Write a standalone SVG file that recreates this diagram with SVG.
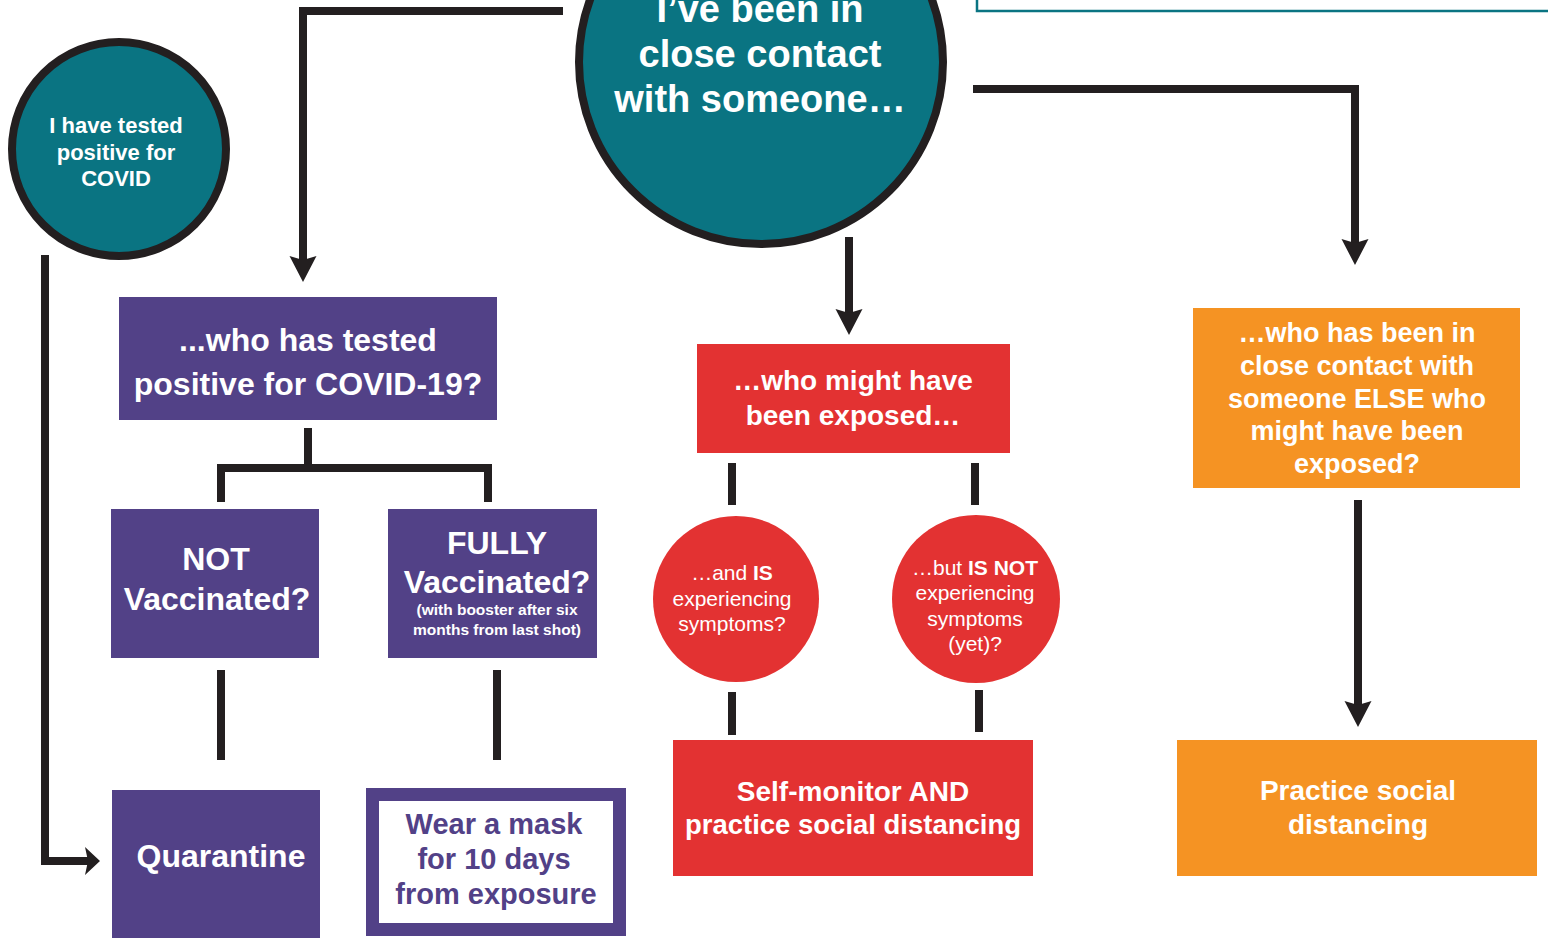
<svg xmlns="http://www.w3.org/2000/svg" width="1548" height="941" viewBox="0 0 1548 941">
<style>
text{font-family:"Liberation Sans",Arial,sans-serif;font-weight:bold;text-anchor:middle;fill:#fff}
.conn{fill:none;stroke:#231f20;stroke-width:8;stroke-linejoin:miter}
.teal{fill:#0a7482;stroke:#231f20;stroke-width:8}
.purple{fill:#524187}
.red{fill:#e33232}
.orange{fill:#f59323}
.reg{font-weight:normal}
.ptext{fill:#524187}
</style>
<defs>
<marker id="arr" viewBox="0 -14 27 28" markerWidth="27" markerHeight="28" refX="4" refY="0" orient="auto" markerUnits="userSpaceOnUse">
<path d="M0,-13.5 L26,0 L0,13.5 L4,0 Z" fill="#231f20"/>
</marker>
<marker id="arrs" viewBox="0 -15 16 30" markerWidth="16" markerHeight="30" refX="3" refY="0" orient="auto" markerUnits="userSpaceOnUse">
<path d="M0,-14 L15,0 L0,14 L3,0 Z" fill="#231f20"/>
</marker>
</defs>
<rect x="977" y="-20" width="600" height="31" fill="none" stroke="#0a7482" stroke-width="2.5"/>
<g id="connectors">
<path class="conn" d="M563,11 H303 V260" marker-end="url(#arr)"/>
<path class="conn" d="M973,89 H1355 V243" marker-end="url(#arr)"/>
<path class="conn" d="M849,237 V313" marker-end="url(#arr)"/>
<path class="conn" d="M1358,500 V705" marker-end="url(#arr)"/>
<path class="conn" d="M45,255 V861 H88" marker-end="url(#arrs)"/>
<path class="conn" d="M308,428 V468"/>
<path class="conn" d="M221,502 V468 H488 V502"/>
<path class="conn" d="M221,670 V760"/>
<path class="conn" d="M497,670 V760"/>
<path class="conn" d="M732,463 V505"/>
<path class="conn" d="M975,463 V505"/>
<path class="conn" d="M732,692 V735"/>
<path class="conn" d="M979,690 V732"/>
</g>
<g id="close-contact">
<circle class="teal" cx="761" cy="62" r="182"/>
<text x="760" y="22" font-size="38">I’ve been in</text>
<text x="760" y="67" font-size="38">close contact</text>
<text x="760" y="112" font-size="38">with someone…</text>
</g>
<g id="tested-positive">
<circle class="teal" cx="119" cy="149" r="107"/>
<text x="116" y="133" font-size="22">I have tested</text>
<text x="116" y="160" font-size="22">positive for</text>
<text x="116" y="186" font-size="22">COVID</text>
</g>
<g id="who-tested-positive">
<rect class="purple" x="119" y="297" width="378" height="123"/>
<text x="308" y="351" font-size="32">...who has tested</text>
<text x="308" y="395" font-size="32">positive for COVID-19?</text>
</g>
<g id="not-vaccinated">
<rect class="purple" x="111" y="509" width="208" height="149"/>
<text x="216" y="570" font-size="32">NOT</text>
<text x="217" y="610" font-size="32">Vaccinated?</text>
</g>
<g id="fully-vaccinated">
<rect class="purple" x="388" y="509" width="209" height="149"/>
<text x="497" y="554" font-size="32">FULLY</text>
<text x="497" y="593" font-size="32">Vaccinated?</text>
<text x="497" y="615" font-size="15.5">(with booster after six</text>
<text x="497" y="635" font-size="15.5">months from last shot)</text>
</g>
<g id="quarantine">
<rect class="purple" x="112" y="790" width="208" height="148"/>
<text x="221" y="867" font-size="32">Quarantine</text>
</g>
<g id="wear-mask">
<rect x="372.5" y="794.5" width="247" height="135" fill="#fff" stroke="#524187" stroke-width="13"/>
<text class="ptext" x="494" y="834" font-size="29">Wear a mask</text>
<text class="ptext" x="494" y="869" font-size="29">for 10 days</text>
<text class="ptext" x="496" y="904" font-size="29">from exposure</text>
</g>
<g id="might-have-been-exposed">
<rect class="red" x="697" y="344" width="313" height="109"/>
<text x="853" y="390" font-size="28">…who might have</text>
<text x="853" y="425" font-size="28">been exposed…</text>
</g>
<g id="is-experiencing">
<circle class="red" cx="736" cy="599" r="83"/>
<text x="732" y="580" font-size="21"><tspan class="reg">…and </tspan>IS</text>
<text x="732" y="606" font-size="21" class="reg">experiencing</text>
<text x="732" y="631" font-size="21" class="reg">symptoms?</text>
</g>
<g id="is-not-experiencing">
<circle class="red" cx="976" cy="599" r="84"/>
<text x="975" y="575" font-size="21"><tspan class="reg">…but </tspan>IS NOT</text>
<text x="975" y="600" font-size="21" class="reg">experiencing</text>
<text x="975" y="626" font-size="21" class="reg">symptoms</text>
<text x="975" y="651" font-size="21" class="reg">(yet)?</text>
</g>
<g id="self-monitor">
<rect class="red" x="673" y="740" width="360" height="136"/>
<text x="853" y="801" font-size="28">Self-monitor AND</text>
<text x="853" y="834" font-size="28" textLength="336" lengthAdjust="spacingAndGlyphs">practice social distancing</text>
</g>
<g id="contact-with-else">
<rect class="orange" x="1193" y="308" width="327" height="180"/>
<text x="1357" y="342" font-size="27">…who has been in</text>
<text x="1357" y="375" font-size="27">close contact with</text>
<text x="1357" y="408" font-size="27">someone ELSE who</text>
<text x="1357" y="440" font-size="27">might have been</text>
<text x="1357" y="473" font-size="27">exposed?</text>
</g>
<g id="practice-distancing">
<rect class="orange" x="1177" y="740" width="360" height="136"/>
<text x="1358" y="800" font-size="28">Practice social</text>
<text x="1358" y="834" font-size="28">distancing</text>
</g>
</svg>
